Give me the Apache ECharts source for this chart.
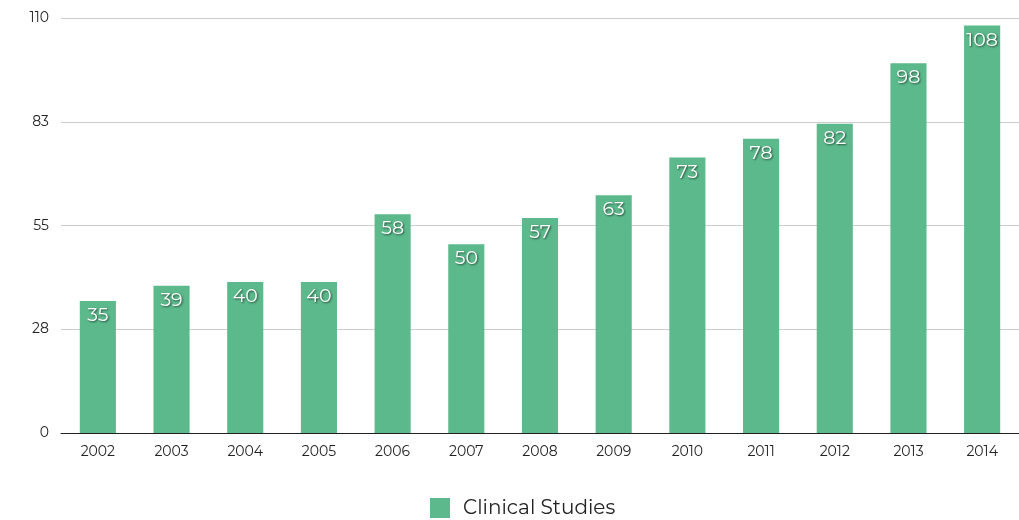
<!DOCTYPE html>
<html><head><meta charset="utf-8">
<script src="https://cdn.jsdelivr.net/npm/echarts@6/dist/echarts.min.js"></script>
<style>html,body{margin:0;padding:0;background:#fff}#c{width:1019px;height:520px}</style>
</head><body><div id="c"></div>
<script>
const categories = ['2002','2003','2004','2005','2006','2007','2008','2009','2010','2011','2012','2013','2014'];
const values = [35,39,40,40,58,50,57,63,73,78,82,98,108];
const seriesName = 'Clinical Studies';
const chart = echarts.init(document.getElementById('c'));
chart.setOption({
  animation:false,
  textStyle:{fontFamily:'Montserrat, "Open Sans", Lato, sans-serif'},
  grid:{left:61,right:0,top:18,bottom:87,containLabel:false},
  legend:{top:493,left:425,itemWidth:20,itemHeight:20,icon:'rect',
    textStyle:{fontSize:20,color:'#222',padding:[0,0,0,8]},data:[seriesName]},
  xAxis:{type:'category',data:categories,
    axisLine:{lineStyle:{color:'#222',width:1}},axisTick:{show:false},
    axisLabel:{fontSize:14,color:'#222',margin:12}},
  yAxis:{type:'value',min:0,max:110,interval:27.5,
    axisLine:{show:false},axisTick:{show:false},
    splitLine:{lineStyle:{color:'#ccc'}},
    axisLabel:{fontSize:14,color:'#222',margin:12,formatter:v=>Math.round(v)}},
  series:[{name:seriesName,type:'bar',data:values,barWidth:'49%',
    itemStyle:{color:'#5bb98b'},
    label:{show:true,position:'insideTop',offset:[0,0],color:'#fff',fontSize:19,
      textShadowColor:'rgba(0,0,0,0.6)',textShadowBlur:2,textShadowOffsetX:1,textShadowOffsetY:1}}]
});
</script></body></html>
